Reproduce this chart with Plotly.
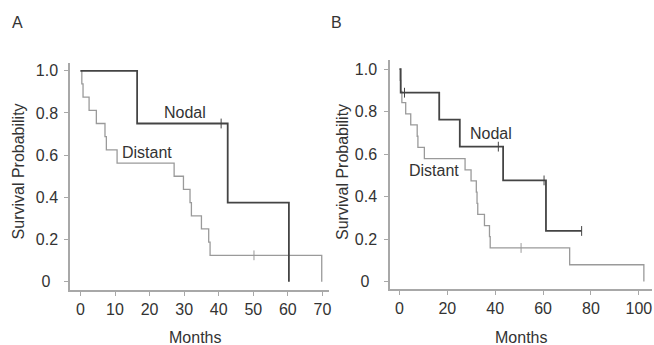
import plotly.graph_objects as go

# ---------------- data ----------------
# Panel A
A_nodal_months = [0, 16.4, 42.6, 60.3]
A_nodal_surv = [1.0, 0.75, 0.375, 0.0]
A_nodal_cens_months = [40.7]
A_nodal_cens_surv = [0.75]

A_distant_months = [0, 0.4, 0.75, 2.5, 4.6, 7.1, 7.5, 10.6, 27.1, 29.8, 31.7, 32.1, 35.0, 37.1, 37.5, 69.8]
A_distant_surv = [1.0, 0.9375, 0.875, 0.8125, 0.75, 0.6875, 0.625, 0.5625, 0.5, 0.4375, 0.375, 0.3125,
                  0.25, 0.1875, 0.125, 0.0]
A_distant_cens_months = [50.2]
A_distant_cens_surv = [0.125]

# Panel B
B_nodal_months = [0, 0.5, 16.6, 25.2, 43.3, 61.2, 76.1]
B_nodal_surv = [1.0, 0.889, 0.762, 0.635, 0.476, 0.238, 0.238]
B_nodal_cens_months = [2.1, 41.3, 60.4, 76.1]
B_nodal_cens_surv = [0.889, 0.635, 0.476, 0.238]

B_distant_months = [0, 0.3, 0.5, 1.0, 2.6, 4.7, 7.4, 7.7, 10.4, 27.4, 29.9, 32.1, 32.4, 32.7, 35.5, 37.6, 37.9,
                    71.1, 102.1]
B_distant_surv = [1.0, 0.947, 0.895, 0.842, 0.789, 0.737, 0.684, 0.632, 0.579, 0.526, 0.474, 0.421, 0.368,
                  0.316, 0.263, 0.211, 0.158, 0.079, 0.0]
B_distant_cens_months = [50.8]
B_distant_cens_surv = [0.158]

y_tickvals = [0, 0.2, 0.4, 0.6, 0.8, 1.0]
y_ticktext = ["0\u00a0\u2009\u2009", "0.2\u2009", "0.4\u2009", "0.6\u2009", "0.8\u2009", "1.0\u2009"]
A_x_tickvals = [0, 10, 20, 30, 40, 50, 60, 70]
B_x_tickvals = [0, 20, 40, 60, 80, 100]

# ---------------- style ----------------
FONT = "Liberation Sans, Arial, Helvetica, sans-serif"
TXT = "#333333"
NODAL_C = "#444444"
DIST_C = "#9a9a9a"
AX_C = "#a8a8a8"
FS = 16
W, H = 654, 345

fig = go.Figure()


def add_curve(xa, ya, months, surv, cm, cs, color, width):
    fig.add_trace(go.Scatter(x=months, y=surv, mode="lines", line=dict(shape="hv", color=color, width=width),
                             xaxis=xa, yaxis=ya, showlegend=False, hoverinfo="skip"))
    fig.add_trace(go.Scatter(x=cm, y=cs, mode="markers",
                             marker=dict(symbol="line-ns-open", size=7, color=color,
                                         line=dict(color=color, width=1)),
                             xaxis=xa, yaxis=ya, showlegend=False, hoverinfo="skip"))


add_curve("x", "y", A_distant_months, A_distant_surv, A_distant_cens_months, A_distant_cens_surv, DIST_C, 1.3)
add_curve("x", "y", A_nodal_months, A_nodal_surv, A_nodal_cens_months, A_nodal_cens_surv, NODAL_C, 1.8)
add_curve("x2", "y2", B_distant_months, B_distant_surv, B_distant_cens_months, B_distant_cens_surv, DIST_C, 1.3)
add_curve("x2", "y2", B_nodal_months, B_nodal_surv, B_nodal_cens_months, B_nodal_cens_surv, NODAL_C, 1.8)

axis_common = dict(showline=True, linecolor=AX_C, linewidth=2, ticks="outside", ticklen=4, tickwidth=1.2,
                   tickcolor=AX_C, showgrid=False, zeroline=False,
                   tickfont=dict(family=FONT, size=FS, color=TXT))

fig.update_layout(
    width=W, height=H, margin=dict(l=0, r=0, t=0, b=0),
    paper_bgcolor="white", plot_bgcolor="white",
    xaxis=dict(domain=[70.7 / W, 330 / W], range=[-2.88, 71.9], tickvals=A_x_tickvals, anchor="y",
               **axis_common),
    yaxis=dict(domain=[(H - 291) / H, (H - 63) / H], range=[-0.0402, 1.0378], tickvals=y_tickvals,
               ticktext=y_ticktext, anchor="x", **axis_common),
    xaxis2=dict(domain=[390.7 / W, 1.0], range=[-4.17, 105.5], tickvals=B_x_tickvals, anchor="y2",
                **axis_common),
    yaxis2=dict(domain=[(H - 290) / H, (H - 60) / H], range=[-0.036, 1.0437], tickvals=y_tickvals,
                ticktext=y_ticktext, anchor="x2", **axis_common),
)

ann_font = dict(family=FONT, size=FS, color=TXT)


def pann(text, px, py, angle=0):
    return dict(text=text, x=px / W, y=(H - py) / H, xref="paper", yref="paper", showarrow=False,
                xanchor="center", yanchor="middle", textangle=angle, font=ann_font)


def dann(text, x, y, xr, yr):
    return dict(text=text, x=x, y=y, xref=xr, yref=yr, showarrow=False, xanchor="center", yanchor="middle",
                font=ann_font)


annotations = [
    pann("A", 17.5, 23),
    pann("B", 337.5, 23),
    pann("Survival Probability", 19, 172, -90),
    pann("Survival Probability", 343.5, 172, -90),
    pann("Months", 196, 338),
    pann("Months", 523, 338),
    dann("Nodal", 30.3, 0.80, "x", "y"),
    dann("Distant", 19.2, 0.611, "x", "y"),
    dann("Nodal", 38.3, 0.698, "x2", "y2"),
    dann("Distant", 14.5, 0.524, "x2", "y2"),
]
fig.update_layout(annotations=annotations)

fig.write_html("out.html", config={"displayModeBar": False},
               post_script="document.body.style.margin='0px';")
